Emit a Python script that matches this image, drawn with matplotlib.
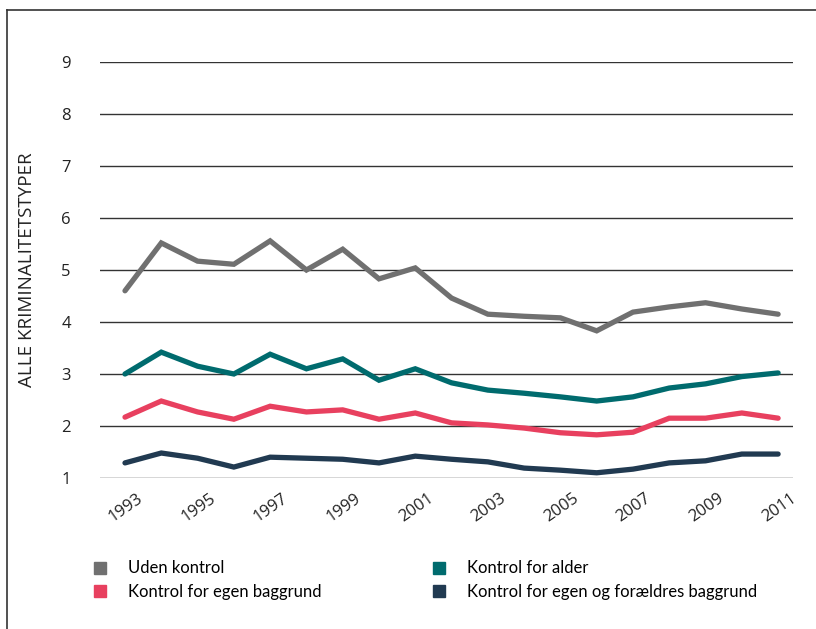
import matplotlib.pyplot as plt
from matplotlib.lines import Line2D
from matplotlib.transforms import ScaledTranslation

years = list(range(1993, 2012))

uden_kontrol = [4.60, 5.52, 5.17, 5.11, 5.56, 5.00, 5.40, 4.83, 5.04, 4.46,
                4.15, 4.11, 4.08, 3.83, 4.19, 4.29, 4.37, 4.25, 4.15]
kontrol_alder = [3.00, 3.42, 3.15, 3.00, 3.38, 3.10, 3.29, 2.88, 3.10, 2.83,
                 2.69, 2.63, 2.56, 2.48, 2.56, 2.73, 2.81, 2.95, 3.02]
kontrol_egen = [2.17, 2.48, 2.27, 2.13, 2.38, 2.27, 2.31, 2.13, 2.25, 2.06,
                2.02, 1.96, 1.87, 1.83, 1.88, 2.15, 2.15, 2.25, 2.15]
kontrol_foraeldre = [1.29, 1.48, 1.38, 1.21, 1.40, 1.38, 1.36, 1.29, 1.42, 1.36,
                     1.31, 1.19, 1.15, 1.10, 1.17, 1.29, 1.33, 1.46, 1.46]

labels = ['Uden kontrol', 'Kontrol for egen baggrund',
          'Kontrol for alder', 'Kontrol for egen og forældres baggrund']
colors = {'Uden kontrol': '#707070', 'Kontrol for alder': '#006b6e',
          'Kontrol for egen baggrund': '#e8405f',
          'Kontrol for egen og forældres baggrund': '#213a51'}
series = {'Uden kontrol': uden_kontrol, 'Kontrol for alder': kontrol_alder,
          'Kontrol for egen baggrund': kontrol_egen,
          'Kontrol for egen og forældres baggrund': kontrol_foraeldre}

plt.rcParams['font.family'] = ['Open Sans', 'DejaVu Sans']

fig = plt.figure(figsize=(8.16, 6.29), dpi=100)
ax = fig.add_axes([0.1225, 0.2401, 0.8493, 0.6613])

for name in ['Uden kontrol', 'Kontrol for alder', 'Kontrol for egen baggrund',
             'Kontrol for egen og forældres baggrund']:
    ax.plot(years, series[name], color=colors[name], linewidth=3.8,
            solid_capstyle='round', solid_joinstyle='miter', zorder=3)

ax.set_xlim(1992.31, 2011.41)
ax.set_ylim(1, 9)
ax.set_yticks(range(1, 10))
ax.set_xticks(range(1993, 2012, 2))
ax.grid(axis='y', color='#333333', linewidth=1)
for s in ax.spines.values():
    s.set_visible(False)
ax.tick_params(axis='both', length=0, labelsize=12, colors='#222222')
ax.tick_params(axis='y', pad=21)
ax.tick_params(axis='x', pad=9)
offset = ScaledTranslation(12 / 100, 0, fig.dpi_scale_trans)
for t in ax.get_xticklabels():
    t.set_rotation(35)
    t.set_ha('right')
    t.set_rotation_mode('anchor')
    t.set_transform(t.get_transform() + offset)

ax.set_ylabel('ALLE KRIMINALITETSTYPER', fontsize=13.5, color='#222222')
ax.yaxis.set_label_coords(-0.093, 0.5)

# frame lines on the left and top
fig.add_artist(Line2D([7 / 816, 7 / 816], [0, 1 - 10 / 629], color='#333333', linewidth=1.2))
fig.add_artist(Line2D([7 / 816, 1], [1 - 10 / 629, 1 - 10 / 629], color='#333333', linewidth=1.2))

handles = [Line2D([], [], marker='s', linestyle='none', markersize=8.5,
                  color=colors[n]) for n in labels]
fig.legend(handles, labels, loc='upper left', bbox_to_anchor=(0.094, 0.133),
           ncol=2, frameon=False, handletextpad=1.15,
           columnspacing=6.6, labelspacing=0.45, handlelength=1.0,
           prop={'family': ['Lato', 'DejaVu Sans'], 'size': 12})

fig.savefig('out.png', dpi=100)
